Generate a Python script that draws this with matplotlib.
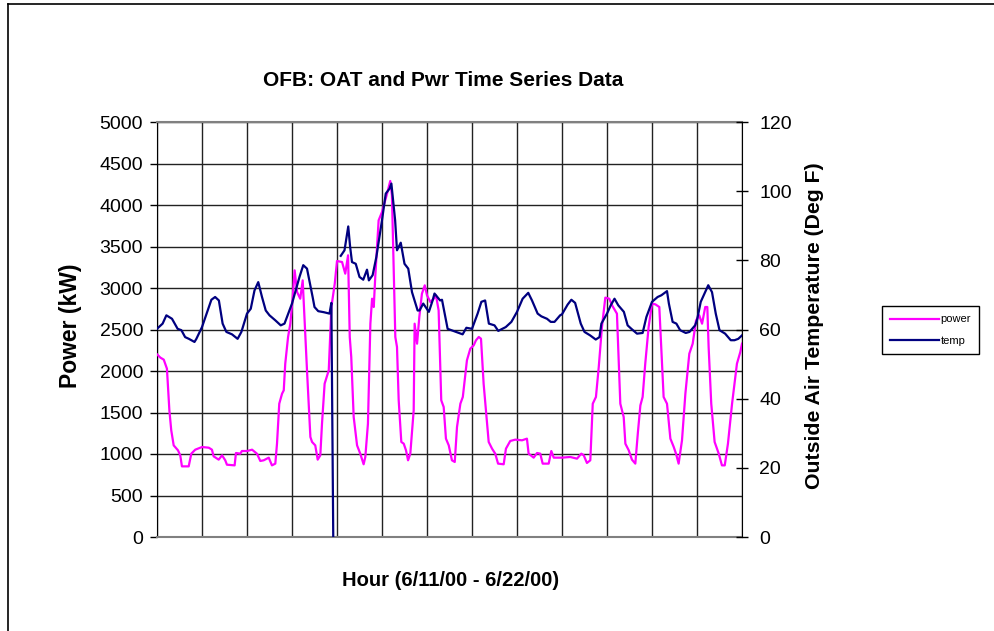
import matplotlib
matplotlib.use("Agg")
import matplotlib.pyplot as plt
from matplotlib.lines import Line2D
import numpy as np

plt.rcParams['font.family'] = ['Liberation Sans', 'DejaVu Sans']

# hourly series, 6/11/00 - 6/22/00 (hour index from start)
temp_hour = [0, 3, 5, 8, 11, 13, 15, 17, 20, 21, 24, 27, 29, 31, 33, 35, 37, 40, 43, 45,
             48, 50, 52, 54, 56, 58, 60, 63, 66, 68, 70, 72, 74, 76, 78, 80, 83, 84, 86, 89,
             92, 93, 94, 95, 98, 100, 102, 103, 104, 106, 108, 110, 112, 113, 115, 117,
             120, 122, 124, 125, 127, 128, 130, 132, 134, 136, 139, 140, 142, 145, 147, 148,
             151, 152, 155, 158, 163, 165, 168, 171, 173, 175, 177, 180, 182, 186, 189, 192,
             195, 198, 200, 203, 205, 208, 210, 212, 215, 216, 219, 221, 223, 226, 228, 231,
             234, 236, 237, 240, 242, 244, 246, 249, 251, 253, 256, 259, 261, 264, 267, 269,
             272, 273, 275, 277, 279, 282, 284, 287, 288, 290, 292, 294, 296, 298, 300, 303,
             306, 308, 310, 312]
temp_degf = [60.2, 61.7, 64.1, 63.1, 60.2, 59.8, 57.8, 57.3, 56.4, 57.3, 60.7, 65.5, 68.6, 69.4, 68.4, 61.7, 59.3, 58.6, 57.3, 59.3,
             64.6, 66.0, 71.3, 73.7, 69.4, 65.5, 64.1, 62.7, 61.2, 61.7, 64.6, 67.5, 71.3, 75.2, 78.6, 77.6, 69.4, 66.5, 65.3, 65.0,
             64.6, 67.7, 0.0, np.nan, 81.3, 82.9, 89.8, 83.9, 79.5, 79.0, 75.2, 74.4, 77.3, 74.2, 75.7, 81.0,
             91.6, 99.3, 100.7, 102.2, 91.6, 82.9, 85.1, 79.0, 77.6, 70.8, 65.5, 65.5, 67.5, 65.1, 68.4, 70.4,
             68.4, 68.6, 60.2, 59.6, 58.6, 60.5, 60.2, 64.6, 68.0, 68.4, 61.7, 61.2, 59.6, 60.7, 62.2, 65.1,
             68.9, 70.6, 68.4, 64.6, 63.8, 63.1, 62.2, 62.2, 64.1, 64.4, 67.2, 68.6, 67.7, 61.7, 59.3, 58.3,
             57.1, 57.8, 61.7, 64.6, 67.0, 68.9, 67.0, 65.1, 61.2, 60.2, 58.8, 59.0, 63.6, 68.0, 69.4, 69.9,
             71.1, 67.5, 62.2, 61.7, 59.8, 59.0, 59.3, 61.2, 62.7, 68.0, 70.4, 72.8, 70.8, 64.6, 59.8, 58.8,
             56.9, 56.9, 57.3, 58.3]

power_hour = [0, 1.8, 3.6, 5.3, 6.6, 7.6, 8.9, 11.2, 12.4, 13.3, 16.9, 18.3, 20.4, 24, 27.6, 29.3,
              30.2, 32.9, 34.7, 36.4, 37.3, 41.4, 42.1, 44.4, 45.3, 48, 50.7, 53.3, 55.1, 56.9,
              59.6, 61.3, 63.1, 64, 65.2, 66.7, 67.6, 68.4, 69.9, 71.1, 72.4, 73.4, 74.7, 76.4,
              77.7, 78.8, 80, 81.8, 82.7, 84.4, 85.7, 87.1, 88, 89.4, 91.6, 93, 94.8, 96, 98.7,
              100.4, 101.9, 102.8, 103.6, 104.9, 106.7, 108.4, 110.2, 111.1, 112.5, 113.8, 114.7,
              115.6, 116.4, 118.2, 120, 122.7, 124.4, 125.3, 127.1, 128, 128.9, 130.3, 131.6,
              132.8, 133.9, 135.1, 136.9, 137.4, 138.7, 139.9, 141.3, 142.8, 144, 145.8, 147.6,
              148.8, 150.2, 151.6, 152.9, 154.1, 155.6, 157.3, 158.8, 160, 161.8, 163.1, 165.3,
              167.1, 168.9, 170.1, 171.6, 172.8, 174.2, 175.5, 176.9, 178.7, 180.4, 181.9, 184.9,
              186.1, 188.4, 191.1, 194.7, 197.3, 198.2, 200.9, 202.7, 204.4, 205.7, 208.9, 210.3,
              211.6, 216, 220.4, 224, 226.3, 227.6, 229.3, 231.1, 232.4, 234.1, 235.6, 237.3,
              239.1, 241.2, 242.7, 245.3, 247.1, 248.9, 249.8, 251.6, 253.3, 255.1, 256.5, 257.8,
              259, 260.4, 262.2, 264, 265.8, 267.9, 269, 270.2, 272, 273.8, 275.6, 276.8, 278.2,
              280, 281.8, 283.9, 285.7, 287.5, 289.2, 290.7, 292.4, 293.5, 294.2, 295.6, 297.4,
              299.6, 301.3, 302.8, 304.5, 306.7, 309.3, 311.1, 312]
power_kw = [2201, 2161, 2137, 2028, 1526, 1285, 1104, 1044, 984, 851, 851, 1004, 1052, 1084, 1076, 1052,
            972, 932, 984, 924, 871, 863, 1012, 1004, 1036, 1036, 1052, 1004, 916, 924,
            956, 863, 884, 1124, 1606, 1727, 1767, 2088, 2410, 2570, 2892, 3213, 2952, 2871,
            3092, 2570, 2008, 1205, 1145, 1104, 932, 984, 1365, 1847, 2008, 2771, 3052, 3325, 3313,
            3173, 3394, 2410, 2169, 1446, 1104, 1004, 876, 964, 1365, 2570, 2871,
            2771, 3133, 3815, 3916, 4137, 4289, 4116, 2410, 2289, 1647, 1145, 1124,
            1044, 924, 1004, 1526, 2570, 2329, 2651, 2932, 3032, 2912, 2831, 2871,
            2912, 2731, 1647, 1566, 1185, 1104, 924, 904, 1325, 1606, 1687, 2129,
            2269, 2309, 2369, 2410, 2389, 1847, 1506, 1145, 1064, 1004, 884, 876,
            1064, 1157, 1173, 1165, 1185, 1004, 956, 1012, 1004, 884, 884, 1036,
            956, 956, 964, 944, 1004, 984, 892, 924, 1606, 1687, 2048, 2530,
            2884, 2871, 2791, 2691, 1606, 1446, 1124, 1044, 932, 884, 1265, 1586,
            1687, 2088, 2530, 2811, 2803, 2771, 2249, 1687, 1606, 1185, 1084, 1004, 884,
            1165, 1727, 2209, 2329, 2610, 2671, 2570, 2771, 2771, 2289, 1606, 1145,
            1004, 863, 863, 1124, 1606, 2088, 2229, 2329]

left_ticks = [0, 500, 1000, 1500, 2000, 2500, 3000, 3500, 4000, 4500, 5000]
right_ticks = [0, 20, 40, 60, 80, 100, 120]
day_lines = np.arange(0, 313, 24)

fig = plt.figure(figsize=(9.95, 6.31), dpi=100)
ax = fig.add_axes([157 / 995, 1 - 537 / 631, 585 / 995, 415 / 631])

ax.plot(power_hour, power_kw, color='#FF00FF', lw=1.6, label='power', zorder=3)
ax.set_xlim(0, 312)
ax.set_ylim(0, 5000)
ax.set_yticks(left_ticks)
ax.set_xticks(day_lines)
ax.tick_params(axis='x', length=0, labelbottom=False)
ax.tick_params(axis='y', direction='out', length=5, width=1, pad=5, labelsize=14)
ax.grid(True, color='#222222', lw=1.0)
ax.set_axisbelow(True)
for s in ['top', 'bottom']:
    ax.spines[s].set_color('#808080')
    ax.spines[s].set_linewidth(1.5)
ax.spines['left'].set_color('black')
ax.spines['right'].set_visible(False)

ax2 = ax.twinx()
ax2.plot(temp_hour, temp_degf, color='#000080', lw=1.6, label='temp', zorder=4)
ax2.set_ylim(0, 120)
ax2.set_yticks(right_ticks)
ax2.tick_params(axis='y', direction='inout', length=9, width=1, pad=8, labelsize=14)
for s in ['top', 'bottom', 'left']:
    ax2.spines[s].set_visible(False)
ax2.spines['right'].set_color('black')

fig.text(443 / 995, 1 - 80 / 631, 'OFB: OAT and Pwr Time Series Data', ha='center', va='center',
         fontsize=15, fontweight='bold')
fig.text(451 / 995, 1 - 580 / 631, 'Hour (6/11/00 - 6/22/00)', ha='center', va='center',
         fontsize=14.5, fontweight='bold')
fig.text(71 / 995, 1 - 326 / 631, 'Power (kW)', ha='center', va='center', rotation=90,
         fontsize=16.5, fontweight='bold')
fig.text(815 / 995, 1 - 326 / 631, 'Outside Air Temperature (Deg F)', ha='center', va='center',
         rotation=90, fontsize=15.3, fontweight='bold')

h1, l1 = ax.get_legend_handles_labels()
h2, l2 = ax2.get_legend_handles_labels()
leg = fig.legend(h1 + h2, l1 + l2, loc='center left', bbox_to_anchor=(882 / 995, 1 - 330 / 631),
                 fontsize=8, handlelength=4.4, handletextpad=0.1, borderpad=0.75,
                 labelspacing=1.0, fancybox=False, framealpha=1, borderaxespad=0)
leg.get_frame().set_edgecolor('black')
leg.get_frame().set_linewidth(1.0)
leg._legend_box.align = 'left'
for t in leg.get_texts():
    t.set_ha('left')
leg.get_frame().set_width(101)

# chart area border (left and top edges visible)
fig.add_artist(Line2D([8 / 995, 8 / 995], [0, 1 - 4 / 631], color='black', lw=1.2))
fig.add_artist(Line2D([8 / 995, 1], [1 - 4 / 631, 1 - 4 / 631], color='black', lw=1.2))

fig.savefig('out.png', dpi=100)
